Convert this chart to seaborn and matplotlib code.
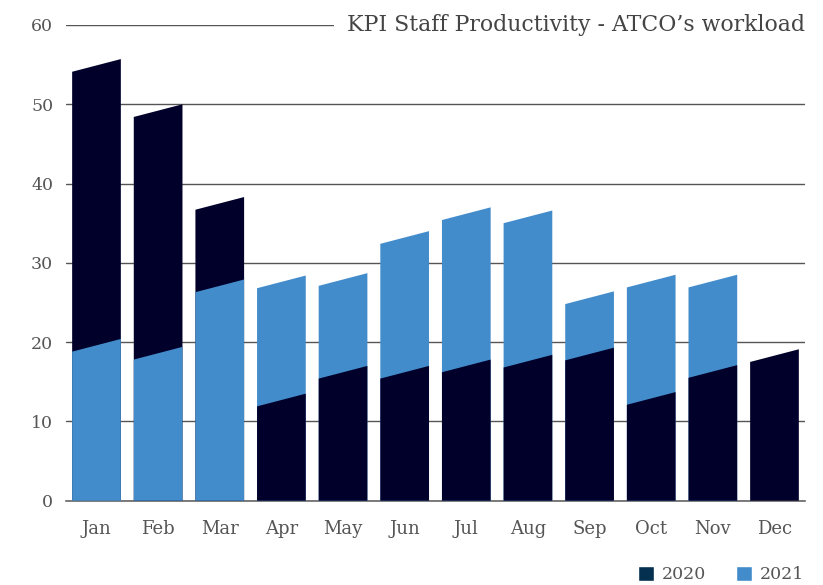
import numpy as np
import pandas as pd
import matplotlib
matplotlib.use('Agg')
import matplotlib.pyplot as plt
import matplotlib.transforms as mtransforms
from matplotlib.patches import Polygon, Patch
import seaborn as sns

sns.set_style('white')
plt.rcParams['font.family'] = ['DejaVu Serif']

# valores (meio da aresta inclinada do topo)
months = ['Jan', 'Feb', 'Mar', 'Apr', 'May', 'Jun', 'Jul', 'Aug', 'Sep', 'Oct', 'Nov', 'Dec']
val_2020 = [54.9, 49.2, 37.5, 12.7, 16.2, 16.2, 17.0, 17.6, 18.5, 12.9, 16.3, 18.3]
val_2021 = [19.6, 18.6, 27.1, 27.6, 27.9, 33.2, 36.2, 35.8, 25.6, 27.7, 27.7, np.nan]
years = ['2020', '2021']
y_ticks = [0, 10, 20, 30, 40, 50, 60]
title = 'KPI Staff Productivity - ATCO\u2019s workload'

DARK = '#00002a'
LIGHT = '#438ccb'
LEGEND_DARK = '#05304f'
TEXT = '#555555'
SLANT = 0.8  # meia inclinação do topo das barras

df = pd.DataFrame({
    'month': months * 2,
    'year': [years[0]] * len(months) + [years[1]] * len(months),
    'value': val_2020 + val_2021,
})

fig = plt.figure(figsize=(8.23, 5.85), dpi=100)
ax = fig.add_axes([0.0798, 0.1441, 0.8987, 0.8132])

sns.barplot(data=df, x='month', y='value', hue='year', order=months,
            hue_order=years, palette=[DARK, LIGHT], dodge=False, saturation=1,
            width=0.79, errorbar=None, legend=False, ax=ax)

# troca retângulos por polígonos com topo inclinado; a barra menor fica na frente
for p in list(ax.patches):
    h = p.get_height()
    x = p.get_x()
    w = p.get_width()
    p.set_visible(False)
    if not np.isfinite(h) or h <= 0:
        continue
    poly = Polygon([(x, 0), (x + w, 0), (x + w, h + SLANT), (x, h - SLANT)],
                   closed=True, facecolor=p.get_facecolor(), edgecolor='none',
                   zorder=3 - h / 100)
    ax.add_patch(poly)

ax.set_ylim(0, 60)
ax.set_xlim(-0.5, len(months) - 0.5)
ax.set_yticks(y_ticks)
ax.set_xticks(range(len(months)))
ax.set_xticklabels(months)
ax.set_xticks(np.arange(-0.5, len(months), 1), minor=True)
ax.set_xlabel('')
ax.set_ylabel('')

ax.tick_params(axis='x', which='major', length=0, pad=14, labelsize=13, labelcolor=TEXT)
ax.tick_params(axis='x', which='minor', length=6, width=1.2, color='#666666', direction='out')
ax.tick_params(axis='y', length=0, pad=9, labelsize=12.5, labelcolor=TEXT)

ax.set_axisbelow(True)
ax.yaxis.grid(True, color='#555555', linewidth=1)
ax.xaxis.grid(False)
for s in ['top', 'right', 'left']:
    ax.spines[s].set_visible(False)
ax.spines['bottom'].set_color('#666666')
ax.spines['bottom'].set_linewidth(1.2)

trans = mtransforms.blended_transform_factory(ax.transAxes, ax.transData)
ax.text(0.999, 60, title, transform=trans, ha='right', va='center',
        fontsize=15.8, color='#444444', clip_on=False, zorder=10,
        bbox=dict(facecolor='white', edgecolor='none', pad=9))

handles = [Patch(facecolor=LEGEND_DARK, label=years[0]),
           Patch(facecolor=LIGHT, label=years[1])]
fig.legend(handles=handles, loc='lower right', bbox_to_anchor=(0.996, -0.024),
           ncol=2, frameon=False, fontsize=12.5, labelcolor=TEXT,
           handlelength=0.95, handleheight=0.95, handletextpad=0.45,
           columnspacing=1.67)

fig.savefig('out.png', dpi=100)
